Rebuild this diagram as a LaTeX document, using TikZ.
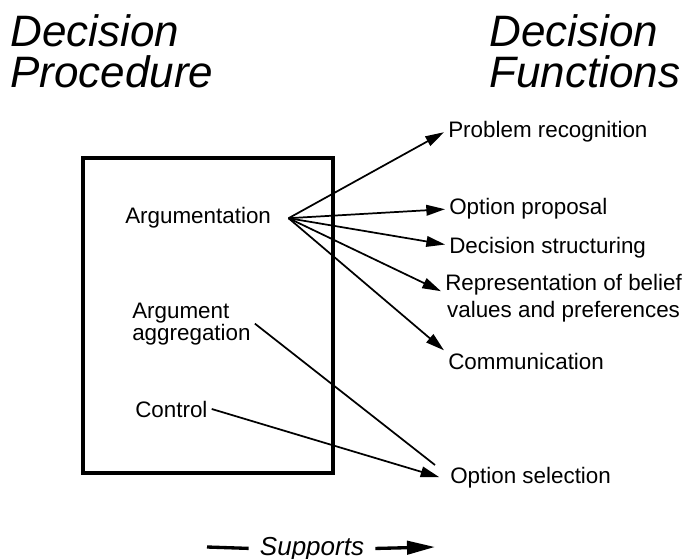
\documentclass[tikz,border=0pt]{standalone}
\usepackage{fontspec}
\setmainfont{Liberation Sans}
\usetikzlibrary{arrows.meta,positioning}
\begin{document}
\begin{tikzpicture}[x=0.75pt, y=-0.75pt,
	heading/.style={inner sep=0pt, align=left, font=\fontsize{33}{30.75}\selectfont\itshape},
	fntext/.style={inner sep=3pt, font=\fontsize{16.8}{20}\selectfont},
	plainline/.style={line width=1.3pt},
	arrowline/.style={-{Triangle[length=14pt, width=8pt]}, line width=1.3pt}]
	       		\useasboundingbox (0,0) rectangle (684,559);
	       		\draw node[heading, anchor=base west] (dp) at (10,88) {Decision\\Procedure};
	       		\draw node[heading, anchor=base west] (df) at (489,88) {Decision\\Functions};
	       		\draw node[draw, line width=2.5pt, minimum width=187.5pt, minimum height=236.25pt] (proc) at (208,315.5) {};
	       		\draw node[fntext, anchor=base west] (arg) at (121,224) {Argumentation};
	       		\draw node[fntext, anchor=base west, align=left, font=\fontsize{16.8}{16.5}\selectfont] (agg) at (128,340) {Argument\\aggregation};
	       		\draw node[fntext, anchor=base west] (ctrl) at (131,417) {Control};
	       		\draw node[fntext, anchor=base west] (prob) at (444,138) {Problem recognition};
	       		\draw node[fntext, anchor=base west] (opt) at (445,215) {Option proposal};
	       		\draw node[fntext, anchor=base west] (struct) at (445,253) {Decision structuring};
	       		\draw node[fntext, anchor=base west, align=center] (rep) at (441,317) {Representation of belief\\values and preferences};
	       		\draw node[fntext, anchor=base west] (comm) at (444,369) {Communication};
	       		\draw node[fntext, anchor=base west] (sel) at (446,483) {Option selection};
	       		\coordinate[right=10pt of arg] (hub);
	       		\coordinate (aggend) at (435,465);
	       		\draw[arrowline] (hub) -- (prob.west);
	       		\draw[arrowline] (hub) -- (opt.west);
	       		\draw[arrowline] (hub) -- ([yshift=2pt]struct.west);
	       		\draw[arrowline] (hub) -- ([yshift=5pt]rep.west);
	       		\draw[arrowline] (hub) -- ([yshift=8pt]comm.west);
	       		\draw[plainline] (agg.east) -- (aggend);
	       		\draw[arrowline] (ctrl.east) -- ([xshift=-5pt]sel.west);
	       		\draw node[font=\fontsize{19.5}{24}\selectfont\itshape, anchor=base] (sup) at (312,555) {Supports};
	       		\coordinate (supl) at (207,547);
	       		\coordinate (supr) at (435,547);
	       		\draw[line width=2.5pt, shorten >=5pt] (supl) -- (sup.west);
	       		\draw[-{Triangle[length=21pt, width=10pt]}, line width=2.5pt, shorten <=5pt] (sup.east) -- (supr);
	       	\end{tikzpicture}
\end{document}
